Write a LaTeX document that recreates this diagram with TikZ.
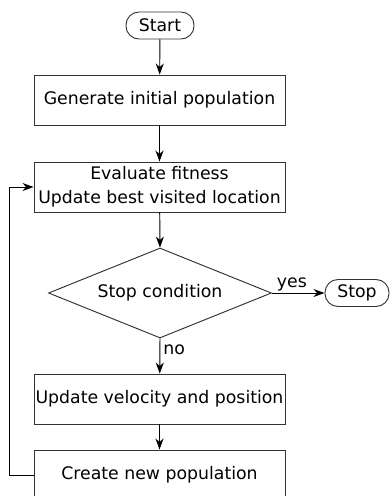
\documentclass[tikz,border=0pt]{standalone}
\usepackage{fontspec}
\setmainfont{DejaVu Sans}
\usetikzlibrary{shapes.geometric,arrows.meta}
\begin{document}
\begin{tikzpicture}[x=1pt,y=-1pt,
  every node/.style={font=\fontsize{17.3}{24}\selectfont},
  procbox/.style={draw=black!80,line width=0.95pt,minimum width=251pt,minimum height=50pt,inner sep=0pt,align=center},
  termbox/.style={draw=black!80,line width=0.95pt,rounded corners=13pt,minimum height=27pt,inner sep=0pt},
  decbox/.style={draw=black!80,line width=0.95pt,diamond,minimum width=223pt,minimum height=90pt,inner sep=0pt,aspect=2.48},
  flow/.style={line width=0.95pt,-{Stealth[length=11pt,width=8pt,inset=3.5pt]}},
  lbl/.style={inner sep=1pt}]
\useasboundingbox (0,0) rectangle (391,496);
\node[termbox,minimum width=68pt] (start) at (160,25.5) {Start};
\node[procbox] (gen) at (159.5,100) {Generate initial population};
\node[procbox] (eval) at (159.5,187) {Evaluate fitness\\Update best visited location};
\node[decbox] (cond) at (160,293) {Stop condition};
\node[termbox,minimum width=64pt] (stop) at (357,293) {Stop};
\node[procbox] (upd) at (159.5,399) {Update velocity and position};
\node[procbox] (newpop) at (159.5,475) {Create new population};
\coordinate (lb) at (9,475);
\coordinate (lt) at (9,187);
\draw[flow] (start) -- (gen);
\draw[flow] (gen) -- (eval);
\draw[flow] (eval) -- (cond.north);
\draw[flow] (cond.east) -- node[lbl,above,pos=0.38] {yes} (stop.west);
\draw[flow] (cond.south) -- node[lbl,right,pos=0.33,xshift=2pt] {no} (upd);
\draw[flow] (upd) -- (newpop);
\draw[flow] (newpop.west) -- (lb) -- (lt) -- (eval.west);
\end{tikzpicture}
\end{document}
